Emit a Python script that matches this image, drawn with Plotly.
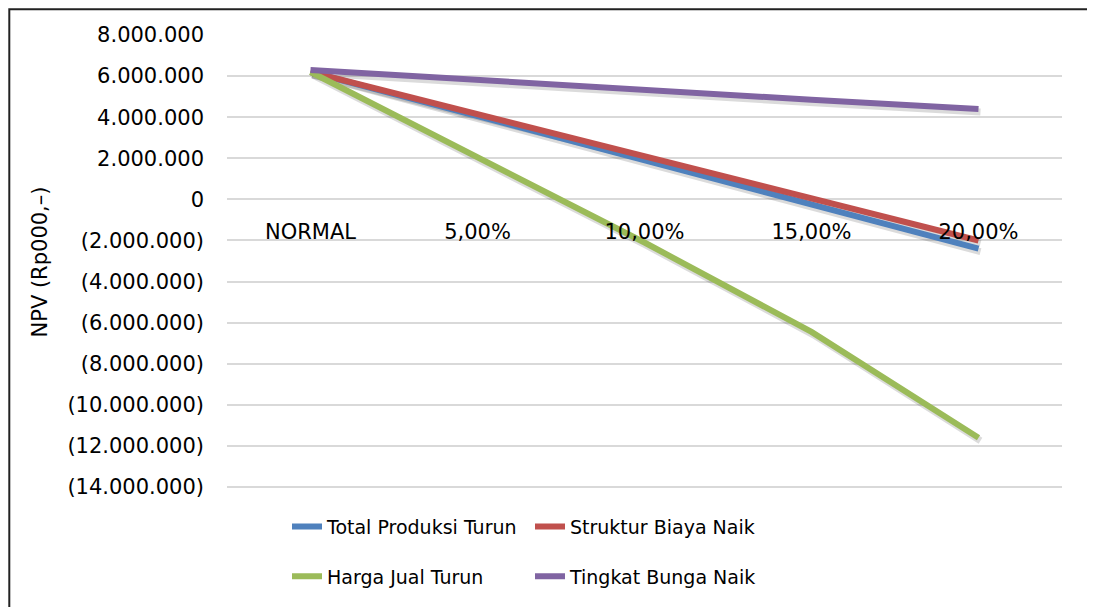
import plotly.graph_objects as go

categories = ["NORMAL", "5,00%", "10,00%", "15,00%", "20,00%"]
total_produksi_turun = [6200000, 4050000, 1900000, -250000, -2400000]
struktur_biaya_naik = [6200000, 4150000, 2100000, 50000, -2000000]
harga_jual_turun = [6200000, 2050000, -2100000, -6450000, -11600000]
tingkat_bunga_naik = [6300000, 5800000, 5300000, 4850000, 4400000]

y_tick_vals = [8000000, 6000000, 4000000, 2000000, 0, -2000000, -4000000,
               -6000000, -8000000, -10000000, -12000000, -14000000]
y_tick_text = ["8.000.000", "6.000.000", "4.000.000", "2.000.000", "0",
               "(2.000.000)", "(4.000.000)", "(6.000.000)", "(8.000.000)",
               "(10.000.000)", "(12.000.000)", "(14.000.000)"]

series = [
    ("Total Produksi Turun", total_produksi_turun, "#4F81BD", "legend"),
    ("Struktur Biaya Naik", struktur_biaya_naik, "#C0504D", "legend"),
    ("Harga Jual Turun", harga_jual_turun, "#9BBB59", "legend2"),
    ("Tingkat Bunga Naik", tingkat_bunga_naik, "#8064A2", "legend2"),
]

FONT = "DejaVu Sans"
FS = 21
LFS = 19
OFF = 8  # page body margin
W, H = 1095 - OFF, 607 - OFF

ymin, ymax = -14000000, 8000000
X0, X1, Y0 = 227, 1062, 35
Ybot = 490                       # window y of ymin
unit = (ymax - ymin) / (Ybot - Y0)  # value per px
padpx = 2
pad = padpx * unit
Y1 = Ybot + padpx
SX, SY = 2, 3                    # shadow offset in px

PWp = X1 + SX - X0
PHp = Y1 + SY - Y0

def px_x(px):
    return (px - X0) / PWp

def px_y(py):
    return (Y1 + SY - py) / PHp

main_xd = [0, px_x(X1)]
main_yd = [px_y(Y1), 1]
sh_xd = [px_x(X0 + SX), 1]
sh_yd = [0, px_y(Y0 + SY)]
yrange = [ymin - pad, ymax]
zero_pos = main_yd[0] + (main_yd[1] - main_yd[0]) * (0 - yrange[0]) / (yrange[1] - yrange[0])

fig = go.Figure()
# invisible carrier so the main (grid + y labels) axes are drawn
fig.add_trace(go.Scatter(
    x=categories, y=total_produksi_turun, mode="lines", showlegend=False,
    hoverinfo="skip", line=dict(color="rgba(0,0,0,0)", width=0),
    xaxis="x", yaxis="y",
))
# shadows
for name, vals, color, lg in series:
    fig.add_trace(go.Scatter(
        x=categories, y=vals, mode="lines", showlegend=False, hoverinfo="skip",
        line=dict(color="rgba(0,0,0,0.14)", width=7),
        xaxis="x2", yaxis="y2",
    ))
# lines
for name, vals, color, lg in series:
    fig.add_trace(go.Scatter(
        x=categories, y=vals, name=name, mode="lines",
        line=dict(color=color, width=6),
        legend=lg, xaxis="x3", yaxis="y3",
    ))

hidden = dict(showgrid=False, showline=False, zeroline=False, ticks="",
              showticklabels=False, fixedrange=True)

fig.update_layout(
    width=W, height=H,
    margin=dict(l=X0 - OFF, r=W - (X1 + SX - OFF), t=Y0 - OFF, b=H - (Y1 + SY - OFF)),
    paper_bgcolor="white", plot_bgcolor="rgba(0,0,0,0)",
    font=dict(family=FONT, size=FS, color="black"),
    xaxis=dict(type="category", range=[-0.5, 4.5], domain=main_xd, anchor="y",
               categoryorder="array", categoryarray=categories, **hidden),
    yaxis=dict(
        range=yrange, domain=main_yd, anchor="x",
        tickvals=y_tick_vals, ticktext=y_tick_text,
        showgrid=True, gridcolor="#D9D9D9", gridwidth=1.5,
        zeroline=False, showline=False, ticks="",
        ticklabelstandoff=22,
        tickfont=dict(family=FONT, size=FS, color="black"),
        title=dict(text="NPV (Rp000,–)", standoff=14,
                   font=dict(family=FONT, size=FS, color="black")),
    ),
    xaxis2=dict(type="category", range=[-0.5, 4.5], domain=sh_xd, anchor="y2",
                categoryorder="array", categoryarray=categories, **hidden),
    yaxis2=dict(range=yrange, domain=sh_yd, anchor="x2", **hidden),
    xaxis3=dict(
        type="category", range=[-0.5, 4.5], domain=main_xd,
        showgrid=False, showline=False, zeroline=False,
        ticks="", anchor="free", position=zero_pos,
        ticklabelstandoff=18, fixedrange=True, layer="above traces",
        tickfont=dict(family=FONT, size=FS, color="black"),
        categoryorder="array", categoryarray=categories,
    ),
    yaxis3=dict(range=yrange, domain=main_yd, anchor="x3", **hidden),
    legend=dict(
        orientation="h", x=px_x(287), xanchor="left",
        y=px_y(530), yanchor="middle",
        entrywidth=198, entrywidthmode="pixels",
        font=dict(family=FONT, size=LFS, color="black"),
        bgcolor="rgba(0,0,0,0)", itemclick=False,
    ),
    legend2=dict(
        orientation="h", x=px_x(287), xanchor="left",
        y=px_y(580), yanchor="middle",
        entrywidth=198, entrywidthmode="pixels",
        font=dict(family=FONT, size=LFS, color="black"),
        bgcolor="rgba(0,0,0,0)", itemclick=False,
    ),
    shapes=[dict(
        type="rect", xref="paper", yref="paper",
        x0=px_x(9.3), x1=px_x(1110), y0=px_y(620), y1=px_y(9),
        line=dict(color="#222222", width=2), fillcolor="rgba(0,0,0,0)",
        layer="above",
    )],
)

fig.write_html("out.html")
